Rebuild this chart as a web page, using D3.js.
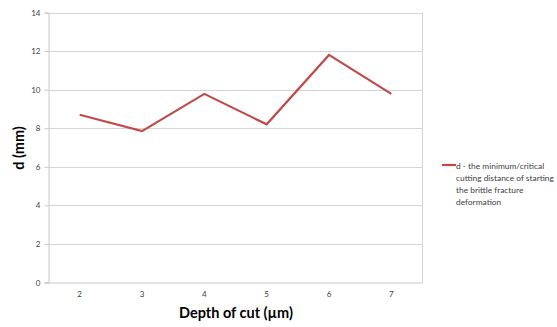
<!DOCTYPE html>
<html>
<head>
<meta charset="utf-8">
<script src="https://cdn.jsdelivr.net/npm/d3@7"></script>
<style>
  html, body { margin: 0; padding: 0; background: #fff; overflow: hidden; }
  svg { display: block; }
</style>
</head>
<body>
<svg id="chart" width="557" height="327"></svg>
<script>
// Depth of cut (µm) categories and measured critical distance d (mm)
const depths = ["2", "3", "4", "5", "6", "7"];
const distances = [8.7, 7.85, 9.78, 8.2, 11.8, 9.78];
const yTicks = [0, 2, 4, 6, 8, 10, 12, 14];
const seriesName = ["d - the minimum/critical", "cutting distance of starting", "the brittle fracture", "deformation"];

const svg = d3.select("#chart");
const m = { left: 48.5, right: 422.5, top: 12.5, bottom: 282.5 };
const lineColor = "#BE4B48";
const gridColor = "#d4d4d4";
const font = "Lato, 'Open Sans', sans-serif";

const x = d3.scaleBand().domain(depths).range([m.left, m.right]);
const y = d3.scaleLinear().domain([0, 14]).range([m.bottom, m.top]);

// horizontal gridlines
svg.append("g")
  .selectAll("line")
  .data(yTicks.filter(t => t > 0))
  .join("line")
  .attr("x1", m.left).attr("x2", m.right)
  .attr("y1", d => Math.round(y(d)) + 0.5).attr("y2", d => Math.round(y(d)) + 0.5)
  .attr("stroke", gridColor).attr("stroke-width", 1);

// right border of plot area
svg.append("line")
  .attr("x1", m.right).attr("x2", m.right)
  .attr("y1", m.top).attr("y2", m.bottom)
  .attr("stroke", gridColor);

// y axis
const yAxis = svg.append("g")
  .attr("transform", `translate(${m.left},0)`)
  .call(d3.axisLeft(y).tickValues(yTicks).tickSize(4).tickPadding(4));
yAxis.select(".domain").attr("stroke", "#c8c8c8");
yAxis.selectAll(".tick line").attr("stroke", "#c8c8c8");
yAxis.selectAll(".tick text")
  .attr("fill", "#404040").attr("font-size", "8px").attr("font-family", font);

// x axis
const xAxis = svg.append("g")
  .attr("transform", `translate(0,${m.bottom})`)
  .call(d3.axisBottom(x).tickSize(0).tickPadding(9));
xAxis.select(".domain").attr("stroke", "#c8c8c8").attr("d", `M${m.left - 3},0.5H${m.right}`);
xAxis.selectAll(".tick text")
  .attr("fill", "#404040").attr("font-size", "8px").attr("font-family", font);

// data line
const line = d3.line()
  .x((d, i) => x(depths[i]) + x.bandwidth() / 2)
  .y(d => y(d));
svg.append("path")
  .datum(distances)
  .attr("d", line)
  .attr("fill", "none")
  .attr("stroke", lineColor)
  .attr("stroke-width", 2.2)
  .attr("stroke-linejoin", "miter");

// axis titles
svg.append("text")
  .attr("x", 236).attr("y", 318)
  .attr("text-anchor", "middle")
  .attr("font-family", font).attr("font-weight", "bold").attr("font-size", "14.5px")
  .attr("fill", "#000")
  .text("Depth of cut (µm)");

svg.append("text")
  .attr("transform", "translate(24,148) rotate(-90)")
  .attr("text-anchor", "middle")
  .attr("font-family", font).attr("font-weight", "bold").attr("font-size", "14.5px")
  .attr("fill", "#000")
  .text("d (mm)");

// legend
const lg = svg.append("g");
lg.append("line")
  .attr("x1", 442).attr("x2", 456)
  .attr("y1", 165).attr("y2", 165)
  .attr("stroke", lineColor).attr("stroke-width", 2.2);
const legendText = lg.append("text")
  .attr("font-family", font).attr("font-size", "9px").attr("fill", "#404040");
legendText.selectAll("tspan")
  .data(seriesName)
  .join("tspan")
  .attr("x", 456)
  .attr("y", (d, i) => 168.5 + i * 12)
  .text(d => d);

// shrink the legend font if its widest line would run past the right edge
const maxW = 98;
const widest = d3.max(legendText.selectAll("tspan").nodes(), n => n.getComputedTextLength());
if (widest > maxW) legendText.attr("font-size", (9 * maxW / widest).toFixed(2) + "px");
</script>
</body>
</html>
